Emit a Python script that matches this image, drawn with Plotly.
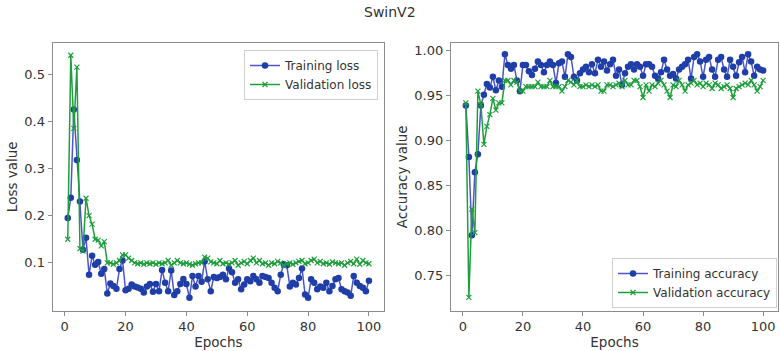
import plotly.graph_objects as go

epochs = list(range(1, 101))

train_loss = [
    0.195, 0.238, 0.425, 0.318, 0.230, 0.128, 0.153, 0.075, 0.115, 0.096,
    0.102, 0.077, 0.087, 0.035, 0.056, 0.051, 0.045, 0.087, 0.105, 0.042,
    0.045, 0.054, 0.050, 0.048, 0.045, 0.037, 0.050, 0.055, 0.039, 0.055,
    0.040, 0.085, 0.058, 0.040, 0.084, 0.032, 0.040, 0.055, 0.066, 0.055,
    0.026, 0.072, 0.050, 0.072, 0.060, 0.103, 0.065, 0.040, 0.070, 0.068,
    0.070, 0.075, 0.065, 0.088, 0.080, 0.058, 0.065, 0.044, 0.054, 0.065,
    0.061, 0.072, 0.065, 0.058, 0.072, 0.070, 0.068, 0.058, 0.047, 0.040,
    0.075, 0.097, 0.095, 0.050, 0.058, 0.054, 0.068, 0.088, 0.033, 0.026,
    0.065, 0.058, 0.044, 0.050, 0.047, 0.058, 0.040, 0.051, 0.065, 0.068,
    0.044, 0.040, 0.037, 0.030, 0.072, 0.058, 0.051, 0.047, 0.040, 0.062,
]

val_loss = [
    0.150, 0.540, 0.385, 0.515, 0.130, 0.125, 0.237, 0.200, 0.182, 0.150,
    0.148, 0.136, 0.145, 0.100, 0.100, 0.097, 0.100, 0.105, 0.117, 0.117,
    0.110, 0.105, 0.100, 0.098, 0.100, 0.097, 0.100, 0.098, 0.100, 0.097,
    0.100, 0.098, 0.100, 0.105, 0.095, 0.100, 0.105, 0.100, 0.098, 0.100,
    0.097, 0.095, 0.098, 0.100, 0.100, 0.112, 0.110, 0.102, 0.100, 0.098,
    0.105, 0.098, 0.100, 0.097, 0.100, 0.105, 0.095, 0.100, 0.103, 0.098,
    0.105, 0.110, 0.100, 0.105, 0.098, 0.100, 0.095, 0.100, 0.098, 0.103,
    0.100, 0.095, 0.098, 0.100, 0.097, 0.100, 0.103, 0.105, 0.098, 0.100,
    0.105, 0.108, 0.100, 0.103, 0.098, 0.100, 0.097, 0.102, 0.100, 0.098,
    0.100, 0.095, 0.100, 0.103, 0.098, 0.108, 0.097, 0.105, 0.100, 0.098,
]

train_acc = [
    0.939, 0.882, 0.795, 0.865, 0.885, 0.939, 0.951, 0.963, 0.959, 0.971,
    0.956, 0.967, 0.960, 0.996, 0.984, 0.980, 0.984, 0.967, 0.955, 0.984,
    0.984, 0.977, 0.973, 0.980, 0.988, 0.984, 0.976, 0.984, 0.988, 0.984,
    0.964, 0.986, 0.988, 0.971, 0.996, 0.993, 0.971, 0.967, 0.975, 0.979,
    0.982, 0.976, 0.985, 0.975, 0.990, 0.982, 0.988, 0.978, 0.985, 0.990,
    0.972, 0.979, 0.962, 0.975, 0.982, 0.985, 0.979, 0.985, 0.982, 0.972,
    0.985, 0.985, 0.982, 0.972, 0.969, 0.976, 0.990, 0.979, 0.972, 0.974,
    0.969, 0.979, 0.982, 0.985, 0.990, 0.969, 0.993, 0.996, 0.988, 0.971,
    0.990, 0.993, 0.979, 0.971, 0.990, 0.993, 0.979, 0.971, 0.990, 0.982,
    0.972, 0.987, 0.993, 0.976, 0.996, 0.988, 0.972, 0.982, 0.979, 0.978,
]

val_acc = [
    0.942, 0.726, 0.824, 0.798, 0.955, 0.940, 0.896, 0.916, 0.929, 0.947,
    0.934, 0.942, 0.942, 0.967, 0.967, 0.962, 0.967, 0.965, 0.955, 0.955,
    0.960, 0.960, 0.960, 0.960, 0.965, 0.960, 0.960, 0.960, 0.967, 0.960,
    0.960, 0.960, 0.955, 0.960, 0.967, 0.965, 0.962, 0.967, 0.960, 0.960,
    0.962, 0.960, 0.962, 0.960, 0.962, 0.955, 0.955, 0.962, 0.962, 0.960,
    0.962, 0.964, 0.960, 0.967, 0.962, 0.962, 0.967, 0.967, 0.960, 0.948,
    0.962, 0.955, 0.962, 0.960, 0.964, 0.967, 0.962, 0.955, 0.948, 0.962,
    0.960, 0.967, 0.962, 0.955, 0.962, 0.964, 0.967, 0.962, 0.964, 0.960,
    0.964, 0.962, 0.958, 0.964, 0.962, 0.958, 0.960, 0.962, 0.958, 0.948,
    0.958, 0.960, 0.962, 0.964, 0.962, 0.967, 0.962, 0.955, 0.960, 0.967,
]

BLUE_LINE = "#4a55c8"
BLUE_MARK = "#1f3ea8"
GREEN = "#1e9e3c"
FONT = "DejaVu Sans"
TXT = "#333333"
SPINE = "#8c8c8c"

fig = go.Figure()

def blue(x, y, name, xa, ya, leg):
    return go.Scatter(x=x, y=y, name=name, mode="lines+markers", xaxis=xa, yaxis=ya,
                      legend=leg,
                      line=dict(color=BLUE_LINE, width=1.5),
                      marker=dict(symbol="circle", size=6.5, color=BLUE_MARK))

def green(x, y, name, xa, ya, leg):
    return go.Scatter(x=x, y=y, name=name, mode="lines+markers", xaxis=xa, yaxis=ya,
                      legend=leg,
                      line=dict(color=GREEN, width=1.5),
                      marker=dict(symbol="x-thin", size=5, color=GREEN,
                                  line=dict(color=GREEN, width=1.2)))

fig.add_trace(blue(epochs, train_loss, "Training loss", "x", "y", "legend"))
fig.add_trace(green(epochs, val_loss, "Validation loss", "x", "y", "legend"))
fig.add_trace(blue(epochs, train_acc, "Training accuracy", "x2", "y2", "legend2"))
fig.add_trace(green(epochs, val_acc, "Validation accuracy", "x2", "y2", "legend2"))

W, H = 780, 351
axis_common = dict(showline=True, mirror=True, linecolor=SPINE, linewidth=1.2,
                   ticks="outside", ticklen=4, tickcolor=SPINE, tickwidth=1,
                   showgrid=False, zeroline=False,
                   tickfont=dict(family=FONT, size=13, color=TXT))
title_font = dict(family=FONT, size=13.5, color=TXT)

fig.update_layout(
    width=W, height=H,
    margin=dict(l=0, r=0, t=0, b=0),
    paper_bgcolor="white", plot_bgcolor="white",
    font=dict(family=FONT, size=13, color=TXT),
    xaxis=dict(domain=[52.7 / W, 384 / W], anchor="y", range=[-3.95, 104.95],
               tickvals=[0, 20, 40, 60, 80, 100],
               title=dict(text="Epochs", font=title_font, standoff=0),
               **axis_common),
    yaxis=dict(domain=[1 - 310.5 / H, 1 - 43 / H], anchor="x", range=[-0.001, 0.566],
               tickvals=[0.1, 0.2, 0.3, 0.4, 0.5],
               title=dict(text="Loss value", font=title_font, standoff=3),
               **axis_common),
    xaxis2=dict(domain=[451 / W, 778 / W], anchor="y2", range=[-3.95, 104.95],
                tickvals=[0, 20, 40, 60, 80, 100],
                title=dict(text="Epochs", font=title_font, standoff=0),
                **axis_common),
    yaxis2=dict(domain=[1 - 310.5 / H, 1 - 43 / H], anchor="x2", range=[0.7115, 1.0085],
                tickvals=[0.75, 0.80, 0.85, 0.90, 0.95, 1.00], tickformat=".2f",
                title=dict(text="Accuracy value", font=title_font, standoff=3),
                **axis_common),
    legend=dict(x=378 / W, y=1 - 50 / H, xanchor="right", yanchor="top",
                bordercolor="#d0d0d0", borderwidth=1, bgcolor="rgba(255,255,255,0.85)",
                font=dict(family=FONT, size=12, color=TXT), tracegroupgap=0,
                itemwidth=30),
    legend2=dict(x=777 / W, y=1 - 308 / H, xanchor="right", yanchor="bottom",
                 bordercolor="#d0d0d0", borderwidth=1, bgcolor="rgba(255,255,255,0.85)",
                 font=dict(family=FONT, size=12, color=TXT), tracegroupgap=0,
                 itemwidth=30),
    annotations=[dict(text="SwinV2", x=0.5, y=1 - 12 / H, xref="paper", yref="paper",
                      xanchor="center", yanchor="middle", showarrow=False,
                      font=dict(family=FONT, size=14, color=TXT))],
)

fig.write_html("out.html")
